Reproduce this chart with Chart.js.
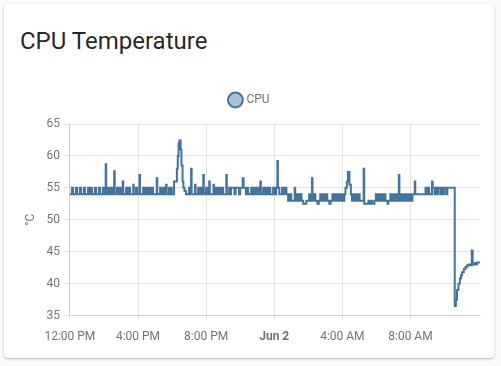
<!DOCTYPE html>
<html>
<head>
<meta charset="utf-8">
<script src="https://cdn.jsdelivr.net/npm/chart.js@4/dist/chart.umd.min.js"></script>
<style>
  html, body { margin: 0; padding: 0; background: #fafafa; width: 501px; height: 366px; overflow: hidden; }
  .card { position: absolute; left: 4px; top: 4px; width: 490px; height: 354px; background: #fff;
          border-radius: 4px; box-shadow: 0 1px 3px rgba(0,0,0,0.2), 0 1px 1px rgba(0,0,0,0.08); }
  .title { position: absolute; left: 16px; top: 21px; font-family: Roboto, sans-serif; font-size: 24px;
           color: rgba(0,0,0,0.87); line-height: 32px; }
  .wrap { position: absolute; left: 8px; top: 80px; width: 476px; height: 270px; }
</style>
</head>
<body>
<div class="card">
  <div class="title">CPU Temperature</div>
  <div class="wrap"><canvas id="c"></canvas></div>
</div>
<script>
// minutes since 12:00 PM (Jun 1)
const seriesName = 'CPU';
const unitLabel = '°C';
const xTickMinutes = [0, 240, 480, 720, 960, 1200];
const xTickLabels = ['12:00 PM', '4:00 PM', '8:00 PM', 'Jun 2', '4:00 AM', '8:00 AM'];
const yTicks = [35, 40, 45, 50, 55, 60, 65];

const times = [
  0, 7, 11, 21, 25, 35, 39, 49, 53, 64, 68, 74, 78, 88, 92, 102, 106, 116, 119,
  126, 128, 134, 138, 145, 149, 156, 158, 166, 170, 176, 180, 186, 188, 198, 202,
  208, 212, 223, 225, 233, 237, 245, 247, 258, 262, 268, 272, 279, 283, 289, 293,
  306, 308, 318, 322, 328, 332, 339, 341, 349, 353, 356, 359,
  367, 377, 380, 383, 386, 390, 393, 397, 400, 404, 409,
  420, 424, 427, 429, 441, 443, 452, 456, 462, 466, 470, 472, 480, 484, 491, 493,
  506, 508, 515, 519, 526, 530, 536, 540, 551, 553, 561, 565,
  568, 580, 584, 596, 600, 609, 612, 620, 623, 628,
  639, 643, 649, 653, 660, 664, 671, 673, 681, 685, 692, 696, 702, 706, 716, 720,
  727, 731, 733, 738, 748, 752, 759, 763, 769,
  776, 780, 792, 794, 801, 805, 812, 816, 822, 833, 843, 847, 853, 855, 861, 865,
  872, 877, 882, 886, 893, 897, 903, 907, 914, 919, 925, 929, 935, 939, 946, 950,
  956, 960, 967, 971, 976, 980, 985, 990, 994, 999, 1003, 1008, 1012, 1017, 1021,
  1035, 1037, 1052, 1055, 1062, 1065, 1073, 1078, 1082, 1087, 1091, 1098, 1102,
  1108, 1112, 1119, 1122, 1129, 1133, 1140, 1144, 1151, 1155, 1159, 1161,
  1168, 1172, 1179, 1183, 1189, 1193, 1200, 1204, 1207,
  1215, 1217, 1253, 1257, 1263, 1266, 1276, 1278, 1285, 1288, 1295, 1298,
  1306, 1309, 1316, 1319, 1327, 1330,
  1356, 1360, 1364, 1369, 1374, 1378, 1382, 1388, 1394, 1400, 1406, 1412,
  1416, 1419, 1422, 1429, 1434, 1445
];
const temps = [
  54, 55, 54, 55, 54, 55, 54, 55, 54, 55, 54, 55, 54, 55, 54, 55, 54, 55, 54,
  58.7, 54, 55, 54, 55, 54, 57.6, 54, 55, 54, 55, 54, 56, 54, 55, 54,
  55, 54, 55.5, 54, 55, 54, 57, 54, 55, 54, 55, 54, 55, 54, 55, 54,
  56.5, 54, 55, 54, 55, 54, 55.5, 54, 55, 54, 55, 54,
  56, 58, 60, 62, 62.4, 61, 58.5, 56, 55, 54.5, 54,
  55, 54, 58, 54, 55.5, 54, 55, 54, 55, 54, 57, 54, 55, 54, 56, 54,
  55.5, 54, 55, 54, 55, 54, 55, 54, 57, 54, 55, 54,
  55, 54, 55, 54, 55, 56.5, 55, 54, 55, 54,
  55, 54, 55, 54, 55, 54, 56, 54, 55, 54, 55, 54, 55, 54, 55, 54,
  55, 59.2, 55, 54, 55, 54, 55, 54, 53,
  54, 53, 55, 53, 54, 53, 54, 53, 52.5, 53, 54, 53, 56.5, 53, 54, 53,
  52.5, 53, 54, 53, 54, 53, 54, 53, 52.5, 53, 54, 53, 54, 53, 54, 53,
  54, 53, 54, 55, 56, 57.5, 55.5, 54, 53, 54, 53, 54, 53, 54, 53,
  58, 52.5, 53, 52.5, 53, 52.5, 53, 54, 53, 54, 53, 54, 53,
  54, 53, 52.5, 53, 54, 53, 54, 53, 54, 53, 57, 53,
  54, 53, 54, 53, 54, 53, 54, 53, 54,
  56, 54, 55, 54, 55, 54, 56, 55, 54, 55, 54, 55,
  54, 55, 54, 55, 54, 55,
  36.5, 37.5, 39, 40, 40.8, 41.3, 41.8, 42.3, 42.6, 42.9, 43, 42.9,
  45.2, 43, 43.2, 43, 43.3, 43.2
];

const lineColor = '#44739e';
const tickColor = '#737373';
const points = times.map((t, i) => ({ x: t, y: temps[i] }));

const legendGap = {
  id: 'legendGap',
  beforeInit(chart) {
    const orig = chart.legend.fit;
    chart.legend.fit = function () { orig.call(this); this.height += 8; };
  }
};

new Chart(document.getElementById('c'), {
  type: 'line',
  plugins: [legendGap],
  data: {
    datasets: [{
      label: seriesName,
      data: points,
      borderColor: lineColor,
      backgroundColor: 'rgba(68,115,158,0.45)',
      borderWidth: 2,
      pointRadius: 0,
      pointHoverRadius: 0,
      stepped: true,
      fill: false,
      tension: 0
    }]
  },
  options: {
    responsive: true,
    maintainAspectRatio: false,
    animation: false,
    layout: { padding: { left: 8, right: 8, top: 0, bottom: 0 } },
    plugins: {
      legend: {
        display: true,
        position: 'top',
        labels: {
          usePointStyle: true,
          pointStyle: 'circle',
          boxWidth: 10,
          boxHeight: 10.5,
          color: tickColor,
          font: { family: 'Roboto', size: 12 },
          padding: 10
        }
      },
      tooltip: { enabled: false }
    },
    scales: {
      x: {
        type: 'linear',
        min: 0,
        max: times[times.length - 1],
        afterBuildTicks: (scale) => { scale.ticks = xTickMinutes.map(v => ({ value: v })); },
        ticks: {
          autoSkip: false,
          maxRotation: 0,
          color: tickColor,
          padding: 10,
          font: (ctx) => ({ family: 'Roboto', size: 12,
                            weight: (ctx.tick && ctx.tick.value === 720) ? 'bold' : 'normal' }),
          callback: (v) => { const i = xTickMinutes.indexOf(v); return i >= 0 ? xTickLabels[i] : ''; }
        },
        grid: { color: 'rgba(0,0,0,0.1)', tickLength: 4 },
        border: { display: true, color: 'rgba(0,0,0,0.1)' }
      },
      y: {
        type: 'linear',
        min: yTicks[0],
        max: yTicks[yTicks.length - 1],
        afterBuildTicks: (scale) => { scale.ticks = yTicks.map(v => ({ value: v })); },
        ticks: { color: tickColor, padding: 4, font: { family: 'Roboto', size: 12 } },
        grid: { color: 'rgba(0,0,0,0.1)', tickLength: 6 },
        border: { display: true, color: 'rgba(0,0,0,0.1)' },
        title: { display: true, text: unitLabel, color: tickColor, font: { family: 'Roboto', size: 12 }, padding: 4 }
      }
    }
  }
});
</script>
</body>
</html>
